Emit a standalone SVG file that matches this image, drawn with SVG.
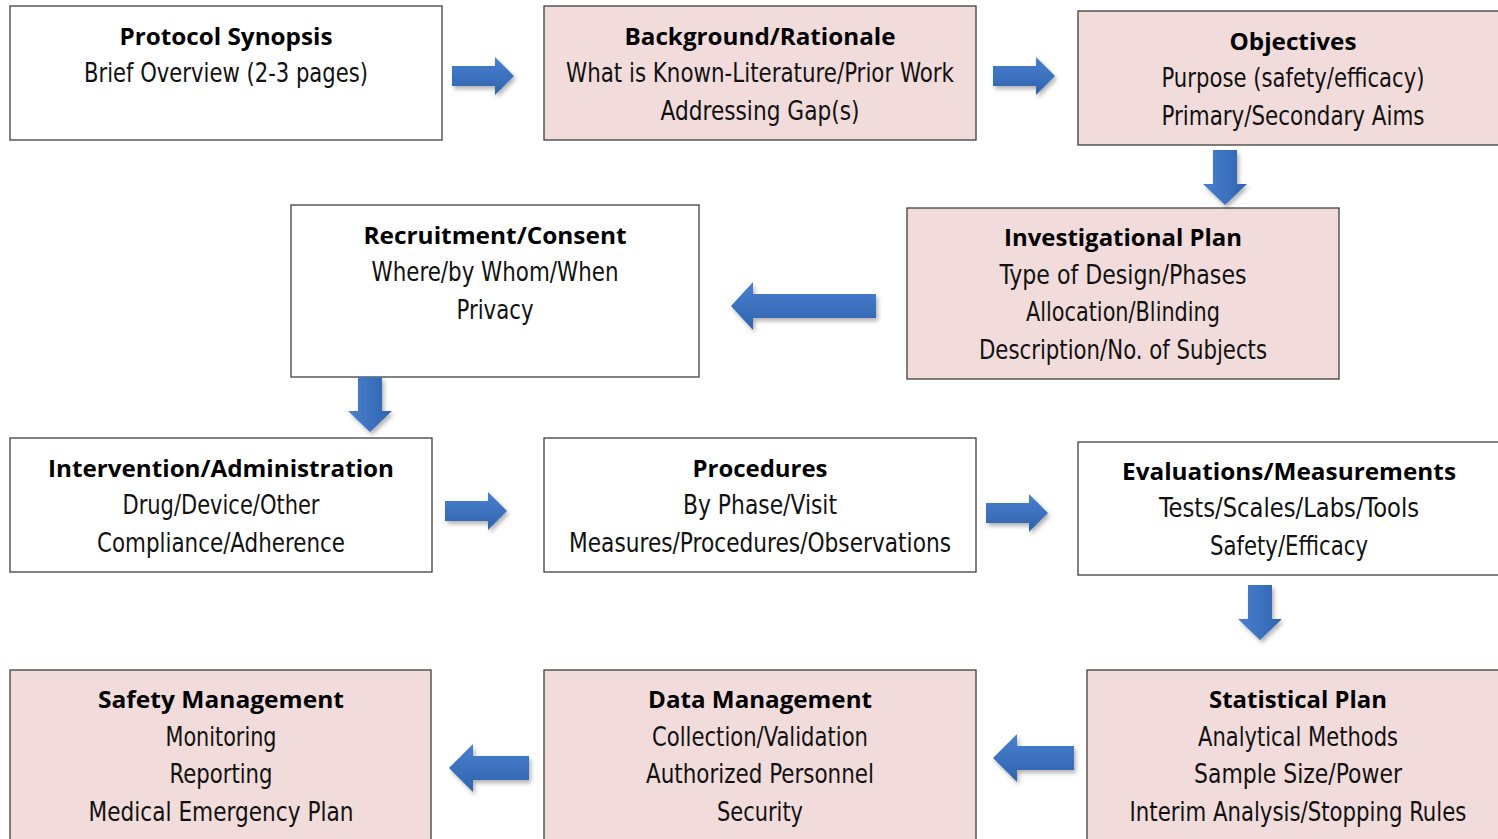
<svg xmlns="http://www.w3.org/2000/svg" width="1498" height="839" viewBox="0 0 1498 839">
<defs>
<style>
.box{stroke:#3f3f3f;stroke-width:1.3}
.w{fill:#ffffff}
.p{fill:#f2dcdb}
.t{font-family:"Open Sans","Liberation Sans",sans-serif;font-weight:bold;font-size:24px;fill:#000;text-anchor:middle}
.b{font-family:"Liberation Sans Narrow","DejaVu Sans Condensed","Liberation Sans",sans-serif;font-size:27px;fill:#111;text-anchor:middle}
.ah{fill:url(#gh);filter:url(#sh)}
.av{fill:url(#gv);filter:url(#sh)}
</style>
<linearGradient id="gh" x1="0" y1="0" x2="0" y2="1"><stop offset="0" stop-color="#4a80cf"/><stop offset="1" stop-color="#2f63ad"/></linearGradient>
<linearGradient id="gv" x1="0" y1="0" x2="1" y2="0"><stop offset="0" stop-color="#4a80cf"/><stop offset="1" stop-color="#2f63ad"/></linearGradient>
<filter id="sh" x="-20%" y="-20%" width="150%" height="150%"><feDropShadow dx="2" dy="3" stdDeviation="2" flood-color="#000" flood-opacity="0.3"/></filter>
</defs>
<rect width="1498" height="839" fill="#fff"/>

<g id="protocol-synopsis">
<rect class="box w" x="10" y="6" width="432" height="134"/>
<text class="t" x="226" y="45" textLength="213" lengthAdjust="spacingAndGlyphs">Protocol Synopsis</text>
<text class="b" x="226" y="82" textLength="284" lengthAdjust="spacingAndGlyphs">Brief Overview (2-3 pages)</text>
</g>
<g id="background-rationale">
<rect class="box p" x="544" y="6" width="432" height="134"/>
<text class="t" x="760" y="45" textLength="271" lengthAdjust="spacingAndGlyphs">Background/Rationale</text>
<text class="b" x="760" y="82" textLength="388" lengthAdjust="spacingAndGlyphs">What is Known-Literature/Prior Work</text>
<text class="b" x="760" y="120" textLength="199" lengthAdjust="spacingAndGlyphs">Addressing Gap(s)</text>
</g>
<g id="objectives">
<rect class="box p" x="1078" y="11" width="430" height="134"/>
<text class="t" x="1293" y="50" textLength="127" lengthAdjust="spacingAndGlyphs">Objectives</text>
<text class="b" x="1293" y="87" textLength="263" lengthAdjust="spacingAndGlyphs">Purpose (safety/efficacy)</text>
<text class="b" x="1293" y="125" textLength="263" lengthAdjust="spacingAndGlyphs">Primary/Secondary Aims</text>
</g>
<g id="recruitment-consent">
<rect class="box w" x="291" y="205" width="408" height="172"/>
<text class="t" x="495" y="244" textLength="263" lengthAdjust="spacingAndGlyphs">Recruitment/Consent</text>
<text class="b" x="495" y="281" textLength="247" lengthAdjust="spacingAndGlyphs">Where/by Whom/When</text>
<text class="b" x="495" y="319" textLength="77" lengthAdjust="spacingAndGlyphs">Privacy</text>
</g>
<g id="investigational-plan">
<rect class="box p" x="907" y="208" width="432" height="171"/>
<text class="t" x="1123" y="246" textLength="238" lengthAdjust="spacingAndGlyphs">Investigational Plan</text>
<text class="b" x="1123" y="284" textLength="247" lengthAdjust="spacingAndGlyphs">Type of Design/Phases</text>
<text class="b" x="1123" y="321" textLength="194" lengthAdjust="spacingAndGlyphs">Allocation/Blinding</text>
<text class="b" x="1123" y="359" textLength="288" lengthAdjust="spacingAndGlyphs">Description/No. of Subjects</text>
</g>
<g id="intervention-administration">
<rect class="box w" x="10" y="438" width="422" height="134"/>
<text class="t" x="221" y="477" textLength="346" lengthAdjust="spacingAndGlyphs">Intervention/Administration</text>
<text class="b" x="221" y="514" textLength="197" lengthAdjust="spacingAndGlyphs">Drug/Device/Other</text>
<text class="b" x="221" y="552" textLength="248" lengthAdjust="spacingAndGlyphs">Compliance/Adherence</text>
</g>
<g id="procedures">
<rect class="box w" x="544" y="438" width="432" height="134"/>
<text class="t" x="760" y="477" textLength="135" lengthAdjust="spacingAndGlyphs">Procedures</text>
<text class="b" x="760" y="514" textLength="154" lengthAdjust="spacingAndGlyphs">By Phase/Visit</text>
<text class="b" x="760" y="552" textLength="382" lengthAdjust="spacingAndGlyphs">Measures/Procedures/Observations</text>
</g>
<g id="evaluations-measurements">
<rect class="box w" x="1078" y="442" width="430" height="133"/>
<text class="t" x="1289" y="480" textLength="334" lengthAdjust="spacingAndGlyphs">Evaluations/Measurements</text>
<text class="b" x="1289" y="517" textLength="260" lengthAdjust="spacingAndGlyphs">Tests/Scales/Labs/Tools</text>
<text class="b" x="1289" y="555" textLength="158" lengthAdjust="spacingAndGlyphs">Safety/Efficacy</text>
</g>
<g id="safety-management">
<rect class="box p" x="10" y="670" width="421" height="180"/>
<text class="t" x="221" y="708" textLength="246" lengthAdjust="spacingAndGlyphs">Safety Management</text>
<text class="b" x="221" y="746" textLength="111" lengthAdjust="spacingAndGlyphs">Monitoring</text>
<text class="b" x="221" y="783" textLength="103" lengthAdjust="spacingAndGlyphs">Reporting</text>
<text class="b" x="221" y="821" textLength="265" lengthAdjust="spacingAndGlyphs">Medical Emergency Plan</text>
</g>
<g id="data-management">
<rect class="box p" x="544" y="670" width="432" height="180"/>
<text class="t" x="760" y="708" textLength="224" lengthAdjust="spacingAndGlyphs">Data Management</text>
<text class="b" x="760" y="746" textLength="216" lengthAdjust="spacingAndGlyphs">Collection/Validation</text>
<text class="b" x="760" y="783" textLength="228" lengthAdjust="spacingAndGlyphs">Authorized Personnel</text>
<text class="b" x="760" y="821" textLength="86" lengthAdjust="spacingAndGlyphs">Security</text>
</g>
<g id="statistical-plan">
<rect class="box p" x="1087" y="670" width="421" height="180"/>
<text class="t" x="1298" y="708" textLength="178" lengthAdjust="spacingAndGlyphs">Statistical Plan</text>
<text class="b" x="1298" y="746" textLength="200" lengthAdjust="spacingAndGlyphs">Analytical Methods</text>
<text class="b" x="1298" y="783" textLength="208" lengthAdjust="spacingAndGlyphs">Sample Size/Power</text>
<text class="b" transform="translate(1298 821) scale(0.8 1)" x="0" y="0" textLength="421" lengthAdjust="spacingAndGlyphs">Interim Analysis/Stopping Rules</text>
</g>

<g id="connectors">
<path class="ah" d="M452 66 H495 V57 L514 76 L495 95 V86 H452 Z"/>
<path class="ah" d="M993 66 H1036 V57 L1055 76 L1036 95 V86 H993 Z"/>
<path class="av" d="M1213 150 H1237 V184 H1247 L1225 205 L1203 184 H1213 Z"/>
<path class="ah" d="M876 294 H753 V282 L731 306 L753 330 V318 H876 Z"/>
<path class="av" d="M358 377 H382 V411 H392 L370 432 L348 411 H358 Z"/>
<path class="ah" d="M445 501 H488 V492 L507 511 L488 530 V521 H445 Z"/>
<path class="ah" d="M986 503 H1029 V494 L1048 513 L1029 532 V523 H986 Z"/>
<path class="av" d="M1248 585 H1272 V619 H1282 L1260 640 L1238 619 H1248 Z"/>
<path class="ah" d="M1074 746 H1017 V734 L993 758 L1017 782 V770 H1074 Z"/>
<path class="ah" d="M529 756 H473 V744 L449 768 L473 792 V780 H529 Z"/>
</g>
</svg>
